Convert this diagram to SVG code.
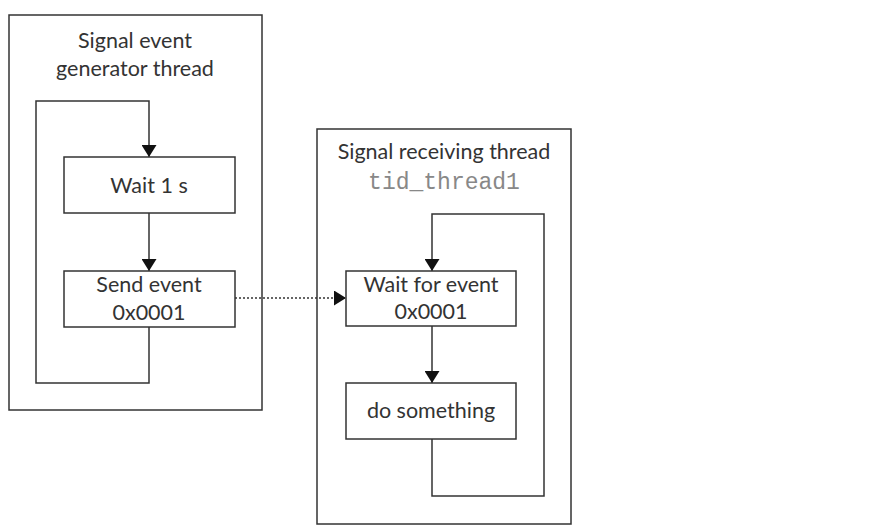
<svg xmlns="http://www.w3.org/2000/svg" width="870" height="527" viewBox="0 0 870 527">
<style>
.frame{fill:#fff;stroke:#333;stroke-width:1.5}
.box{fill:#fff;stroke:#333;stroke-width:1.5}
.t{font-family:Lato,"Liberation Sans",sans-serif;font-size:21.5px;fill:#333;text-anchor:middle}
.m{font-family:"Liberation Mono","Courier New",monospace;font-size:23px;fill:#888;text-anchor:middle}
.c{fill:none;stroke:#333;stroke-width:1.5}
.d{fill:none;stroke:#333;stroke-width:1.5;stroke-dasharray:2 2}
</style>
<defs>
<marker id="ah" viewBox="0 0 12 15" refX="12" refY="7.5" markerWidth="12" markerHeight="15" markerUnits="userSpaceOnUse" orient="auto">
<path d="M0,0 L12,7.5 L0,15 z" fill="#111"/>
</marker>
</defs>
<rect width="870" height="527" fill="#fff"/>
<g id="generator-thread">
<rect class="frame" x="9" y="15" width="253" height="395"/>
<text class="t" x="135" y="48">Signal event</text>
<text class="t" x="135" y="76">generator thread</text>
</g>
<g id="receiving-thread">
<rect class="frame" x="317" y="129" width="254" height="395"/>
<text class="t" x="444" y="159">Signal receiving thread</text>
<text class="m" x="444" y="189">tid_thread1</text>
</g>
<g id="connectors">
<path class="c" d="M149,327 V383 H36 V101 H149 V157" marker-end="url(#ah)"/>
<path class="c" d="M149,213 V271" marker-end="url(#ah)"/>
<path class="c" d="M432,439 V496 H544 V214 H432 V271" marker-end="url(#ah)"/>
<path class="c" d="M432,326 V383" marker-end="url(#ah)"/>
<path class="d" d="M235,298 H346" marker-end="url(#ah)"/>
</g>
<g id="wait-1s">
<rect class="box" x="64" y="157" width="171" height="56"/>
<text class="t" x="149" y="193">Wait 1 s</text>
</g>
<g id="send-event">
<rect class="box" x="64" y="271" width="171" height="56"/>
<text class="t" x="149" y="292">Send event</text>
<text class="t" x="149" y="320">0x0001</text>
</g>
<g id="wait-for-event">
<rect class="box" x="346" y="271" width="170" height="55"/>
<text class="t" x="431" y="292">Wait for event</text>
<text class="t" x="431" y="319">0x0001</text>
</g>
<g id="do-something">
<rect class="box" x="346" y="383" width="170" height="56"/>
<text class="t" x="431" y="418">do something</text>
</g>
</svg>
